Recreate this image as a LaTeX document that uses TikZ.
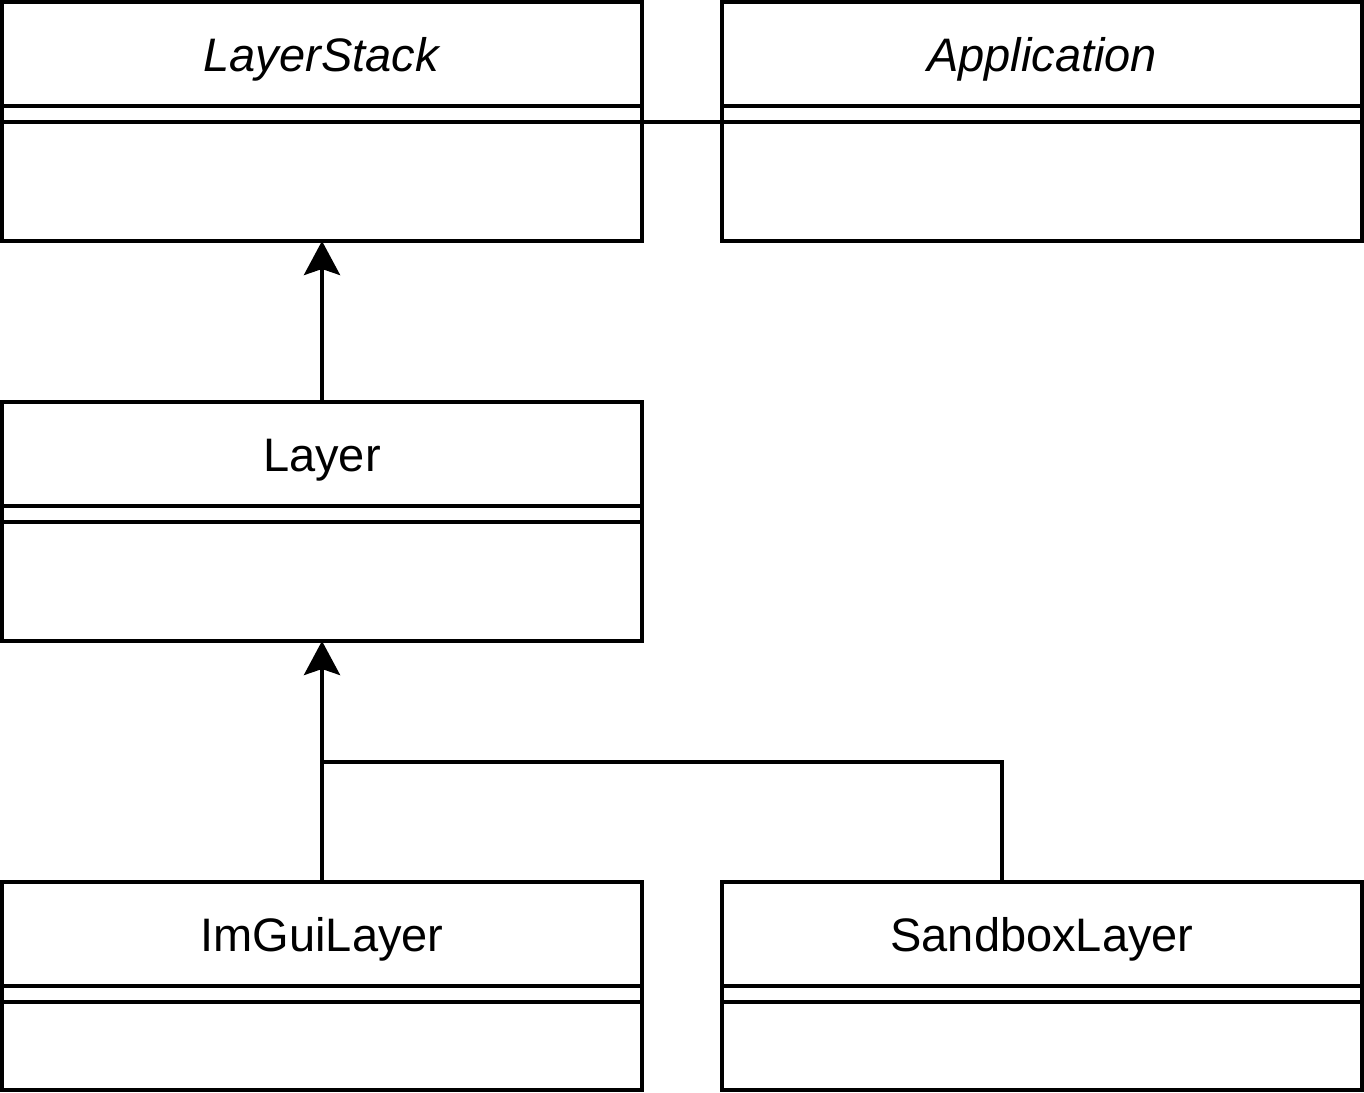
\documentclass[tikz,border=0pt]{standalone}
\usepackage{fontspec}
\setmainfont{Liberation Sans}
\usetikzlibrary{positioning, arrows.meta}

\begin{document}
\begin{tikzpicture}[x=0.5pt, y=-0.5pt, node distance=0pt, line width=2pt, >={Stealth[length=17pt, width=18pt, inset=3pt]}]
    % Stile dei blocchi
    \tikzstyle{cls} = [draw, rectangle, minimum width=320pt, inner sep=0pt, outer sep=0pt, font=\fontsize{23.5}{28}\selectfont]
    \tikzstyle{title} = [cls, minimum height=52pt, text height=22pt, text depth=5pt]
    \tikzstyle{attr} = [cls, minimum height=8pt]
    \tikzstyle{meth} = [cls, minimum height=59.5pt]

    \useasboundingbox (0,0) rectangle (1364,1092);

    % Nodi
    \node [title, anchor=north west] (ls) at (2,2) {\textit{LayerStack}};
    \node [attr, below=of ls] (lsa) {};
    \node [meth, below=of lsa] (lsm) {};

    \node [title, right=40pt of ls] (app) {\textit{Application}};
    \node [attr, below=of app] (appa) {};
    \node [meth, below=of appa] (appm) {};

    \node [title, below=80.5pt of lsm] (lay) {Layer};
    \node [attr, below=of lay] (laya) {};
    \node [meth, below=of laya] (laym) {};

    \node [title, below=120.5pt of laym] (img) {ImGuiLayer};
    \node [attr, below=of img] (imga) {};
    \node [meth, minimum height=44pt, below=of imga] (imgm) {};

    \node [title, right=40pt of img] (sbx) {SandboxLayer};
    \node [attr, below=of sbx] (sbxa) {};
    \node [meth, minimum height=44pt, below=of sbxa] (sbxm) {};

    \coordinate [above=60pt of img] (jn);

    % Collegamenti
    \draw (lsa.south east) -- (appa.south west);
    \draw [->] (lay.north) -- (lsm.south);
    \draw [->] (img.north) -- (laym.south);
    \draw ([xshift=-20pt]sbx.north) |- (jn);
\end{tikzpicture}
\end{document}
